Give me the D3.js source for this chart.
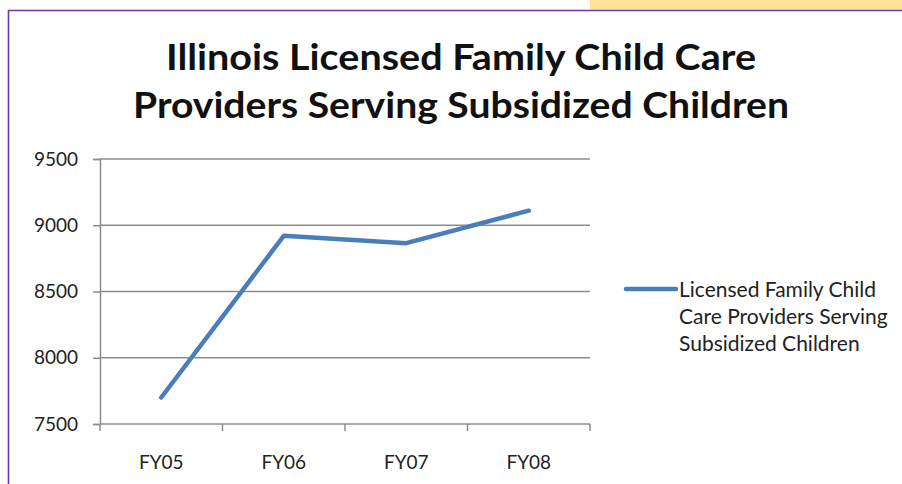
<!DOCTYPE html>
<html>
<head>
<meta charset="utf-8">
<script src="https://cdn.jsdelivr.net/npm/d3@7"></script>
<style>
  body { margin: 0; background: #fff; }
  svg { display: block; }
</style>
</head>
<body>
<div id="chart"></div>
<script>
// data
const years = ["FY05", "FY06", "FY07", "FY08"];
const providers = [7700, 8920, 8865, 9110];
const yTicks = [7500, 8000, 8500, 9000, 9500];
const titleLines = ["Illinois Licensed Family Child Care", "Providers Serving Subsidized Children"];
const legendLines = ["Licensed Family Child", "Care Providers Serving", "Subsidized Children"];

const width = 902, height = 484;
const plot = {left: 100, right: 590, top: 159, bottom: 424};

const svg = d3.select("#chart").append("svg")
    .attr("width", width)
    .attr("height", height);

// slide frame bits
svg.append("rect")
    .attr("x", 590).attr("y", 0)
    .attr("width", 312).attr("height", 9.5)
    .attr("fill", "#ffe497");
svg.append("path")
    .attr("d", "M8.5,484 V10.5 H902")
    .attr("fill", "none")
    .attr("stroke", "#6a3aa5")
    .attr("stroke-width", 1.6);

// title
svg.append("g")
    .attr("font-family", "Lato, sans-serif")
    .attr("font-weight", "bold")
    .attr("font-size", 37)
    .attr("fill", "#111")
    .attr("text-anchor", "middle")
    .selectAll("text")
    .data(titleLines)
    .join("text")
        .attr("x", 461)
        .attr("y", (d, i) => 70 + i * 48)
        .attr("textLength", (d, i) => i === 0 ? 590 : 656)
        .attr("lengthAdjust", "spacingAndGlyphs")
        .text(d => d);

const x = d3.scaleBand()
    .domain(years)
    .range([plot.left, plot.right]);

const y = d3.scaleLinear()
    .domain([7500, 9500])
    .range([plot.bottom, plot.top]);

// gridlines
svg.append("g")
    .selectAll("line")
    .data(yTicks.slice(1))
    .join("line")
        .attr("x1", plot.left).attr("x2", plot.right)
        .attr("y1", d => y(d)).attr("y2", d => y(d))
        .attr("stroke", "#8c8c8c")
        .attr("stroke-width", 1.5);

// y axis
const yAxis = svg.append("g")
    .attr("transform", `translate(${plot.left},0)`)
    .call(d3.axisLeft(y).tickValues(yTicks).tickSize(7).tickPadding(15).tickFormat(d3.format("d")));
yAxis.select(".domain").attr("stroke", "#8c8c8c").attr("stroke-width", 1.5);
yAxis.selectAll(".tick line").attr("stroke", "#8c8c8c").attr("stroke-width", 1.5);
yAxis.selectAll("text")
    .attr("font-family", "Lato, sans-serif")
    .attr("font-size", 19)
    .attr("fill", "#222");

// x axis - ticks on band edges
const xAxis = svg.append("g")
    .attr("transform", `translate(0,${plot.bottom})`);
xAxis.append("line")
    .attr("x1", plot.left).attr("x2", plot.right)
    .attr("stroke", "#8c8c8c").attr("stroke-width", 1.5);
xAxis.selectAll(".edge")
    .data(years.map(d => x(d)).concat([plot.right]))
    .join("line")
        .attr("class", "edge")
        .attr("x1", d => d).attr("x2", d => d)
        .attr("y1", 0).attr("y2", 7)
        .attr("stroke", "#8c8c8c").attr("stroke-width", 1.5);
xAxis.selectAll("text")
    .data(years)
    .join("text")
        .attr("x", d => x(d) + x.bandwidth() / 2)
        .attr("y", 45)
        .attr("text-anchor", "middle")
        .attr("font-family", "Lato, sans-serif")
        .attr("font-size", 19)
        .attr("fill", "#222")
        .text(d => d);

// series line
const line = d3.line()
    .x((d, i) => x(years[i]) + x.bandwidth() / 2)
    .y(d => y(d));

svg.append("path")
    .datum(providers)
    .attr("d", line)
    .attr("fill", "none")
    .attr("stroke", "#4a7ebb")
    .attr("stroke-width", 4.5)
    .attr("stroke-linecap", "round")
    .attr("stroke-linejoin", "round");

// legend
const legend = svg.append("g").attr("transform", "translate(626,289)");
legend.append("line")
    .attr("x1", 0).attr("x2", 50)
    .attr("stroke", "#4a7ebb")
    .attr("stroke-width", 4.5)
    .attr("stroke-linecap", "round");
legend.selectAll("text")
    .data(legendLines)
    .join("text")
        .attr("x", 53)
        .attr("y", (d, i) => 8 + i * 27)
        .attr("font-family", "Lato, sans-serif")
        .attr("font-size", 21)
        .attr("fill", "#222")
        .text(d => d);
</script>
</body>
</html>
